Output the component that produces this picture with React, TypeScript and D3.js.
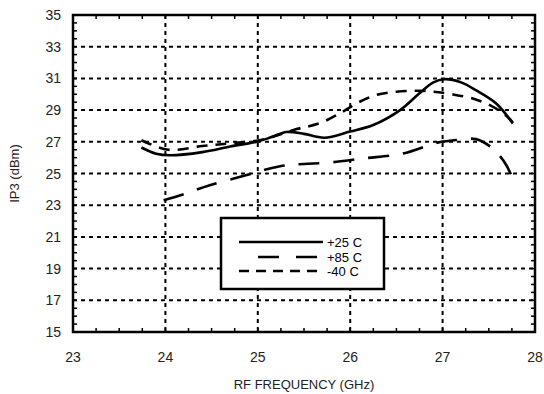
import React from "react";
import * as d3 from "d3";

const xTicks = [23, 24, 25, 26, 27, 28];
const yTicks = [15, 17, 19, 21, 23, 25, 27, 29, 31, 33, 35];

const freq25 = [23.74, 23.9, 24.05, 24.4, 24.7, 25.0, 25.15, 25.31, 25.5, 25.72, 26.0, 26.25, 26.54, 26.75, 26.9, 27.02, 27.2, 27.36, 27.58, 27.76];
const ip3_25 = [26.64, 26.25, 26.15, 26.35, 26.7, 27.02, 27.3, 27.62, 27.5, 27.26, 27.65, 28.06, 29.0, 30.06, 30.75, 30.95, 30.75, 30.26, 29.42, 28.16];

const freq85 = [23.98, 24.2, 24.48, 24.88, 25.24, 25.5, 25.74, 26.14, 26.57, 26.93, 27.08, 27.36, 27.51, 27.62, 27.69, 27.76];
const ip3_85 = [23.31, 23.7, 24.26, 24.9, 25.46, 25.6, 25.67, 25.95, 26.26, 26.93, 27.06, 27.17, 26.73, 26.1, 25.52, 24.68];

const freqM40 = [23.74, 24.03, 24.4, 24.7, 25.02, 25.42, 25.67, 25.89, 26.07, 26.28, 26.5, 26.72, 26.9, 27.1, 27.36, 27.58, 27.72, 27.76];
const ip3_M40 = [27.1, 26.5, 26.73, 26.9, 27.1, 27.8, 28.17, 28.8, 29.43, 29.95, 30.16, 30.22, 30.16, 30.0, 29.67, 29.1, 28.47, 28.2];

const seriesNames = ["+25 C", "+85 C", "-40 C"];

const W = 544, H = 394;
const L = 73, R = 535, T = 15, B = 332;

export default function App() {
  const x = d3.scaleLinear().domain([23, 28]).range([L, R]);
  const y = d3.scaleLinear().domain([15, 35]).range([B, T]);
  const line = d3.line<[number, number]>().x(d => x(d[0])).y(d => y(d[1])).curve(d3.curveCatmullRom.alpha(0.5));
  const zip = (a: number[], b: number[]) => a.map((v, i) => [v, b[i]] as [number, number]);

  const minorX = d3.range(23, 28.001, 0.25);
  const minorY = d3.range(15, 35.001, 0.5);
  const font = "Arial, 'Liberation Sans', Helvetica, sans-serif";

  const series = [
    { d: zip(freq25, ip3_25), dash: "none" },
    { d: zip(freq85, ip3_85), dash: "21 14" },
    { d: zip(freqM40, ip3_M40), dash: "11 8" },
  ];

  const legX0 = 239, legX1 = 323;
  const legY = [242, 257, 271];
  const legDash = ["none", "21 17", "10 7"];

  return (
    <svg width={W} height={H} style={{ position: "absolute", left: 0, top: 0 }} fontFamily={font}>
      <rect x={0} y={0} width={W} height={H} fill="#fff" />
      {/* grid */}
      {xTicks.slice(1, -1).map(t => (
        <line key={"gx" + t} x1={x(t)} x2={x(t)} y1={T} y2={B} stroke="#000" strokeWidth={2} strokeDasharray="4 4" />
      ))}
      {yTicks.slice(1, -1).map(t => (
        <line key={"gy" + t} x1={L} x2={R} y1={y(t)} y2={y(t)} stroke="#000" strokeWidth={2} strokeDasharray="4 4" />
      ))}
      {/* minor ticks */}
      {minorX.map(t => (
        <g key={"mx" + t}>
          <line x1={x(t)} x2={x(t)} y1={B} y2={B - 4} stroke="#000" strokeWidth={1.5} />
          <line x1={x(t)} x2={x(t)} y1={T} y2={T + 4} stroke="#000" strokeWidth={1.5} />
        </g>
      ))}
      {minorY.map(t => (
        <g key={"my" + t}>
          <line x1={L} x2={L + 4} y1={y(t)} y2={y(t)} stroke="#000" strokeWidth={1.5} />
          <line x1={R} x2={R - 4} y1={y(t)} y2={y(t)} stroke="#000" strokeWidth={1.5} />
        </g>
      ))}
      {/* curves */}
      {series.map((s, i) => (
        <path key={"s" + i} d={line(s.d) || ""} fill="none" stroke="#000" strokeWidth={2.6} strokeDasharray={s.dash} />
      ))}
      {/* legend */}
      <rect x={221} y={218} width={163} height={71} fill="#fff" stroke="#000" strokeWidth={2.5} />
      {seriesNames.map((n, i) => (
        <g key={"lg" + i}>
          <line x1={i === 1 ? 258 : legX0} x2={legX1} y1={legY[i]} y2={legY[i]} stroke="#000" strokeWidth={2.6} strokeDasharray={legDash[i]} />
          <text x={327} y={legY[i] + 5} fontSize={13} fill="#000">{n}</text>
        </g>
      ))}
      {/* frame */}
      <rect x={L} y={T} width={R - L} height={B - T} fill="none" stroke="#000" strokeWidth={2.5} />
      {/* tick labels */}
      {xTicks.map(t => (
        <text key={"xl" + t} x={x(t)} y={362} textAnchor="middle" fontSize={14} fill="#222">{t}</text>
      ))}
      {yTicks.map(t => (
        <text key={"yl" + t} x={61} y={y(t) + 5} textAnchor="end" fontSize={14} fill="#222">{t}</text>
      ))}
      <text x={(L + R) / 2} y={389} textAnchor="middle" fontSize={13} fill="#222">RF FREQUENCY (GHz)</text>
      <text transform={`translate(19, ${(T + B) / 2}) rotate(-90)`} textAnchor="middle" fontSize={13} fill="#222">IP3 (dBm)</text>
    </svg>
  );
}
